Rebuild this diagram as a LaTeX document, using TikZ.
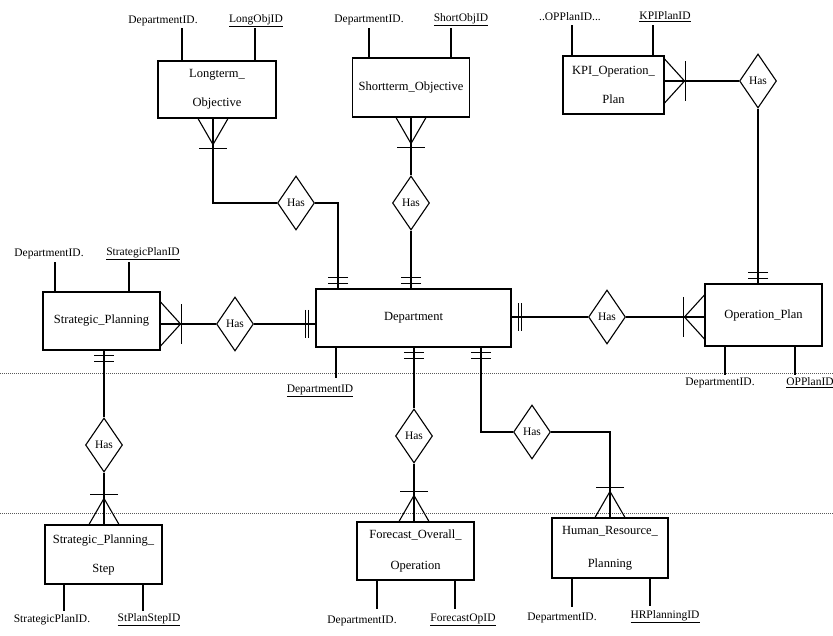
\documentclass[tikz,border=0pt]{standalone}
\usepackage{fontspec}
\setmainfont{Liberation Serif}
\usetikzlibrary{shapes.geometric}
\begin{document}
\begin{tikzpicture}[x=1pt,y=-1pt,
  ln/.style={line width=1.1pt, black},
  ent/.style={draw, line width=1.1pt, inner sep=0pt, align=center, font=\fontsize{12.5}{15}\selectfont},
  rel/.style={draw, diamond, line width=1.1pt, inner sep=0pt, minimum width=37pt, minimum height=54pt, font=\fontsize{11.5}{13}\selectfont},
  attr/.style={inner sep=1pt, font=\fontsize{11.5}{13}\selectfont},
  sep/.style={gray!70!black, line width=0.7pt, dash pattern=on 0.8pt off 1.2pt},
  crow/.pic={\draw[ln] (-15,0) -- (0,26) -- (15,0); \draw[ln] (-14,30) -- (14,30);},
  crowW/.pic={\draw[ln] (-22,0) -- (0,20) -- (22,0); \draw[ln] (-20,21) -- (20,21);},
  mand/.pic={\draw[ln] (-10,5) -- (10,5); \draw[ln] (-10,11) -- (10,11);},
  mandW/.pic={\draw[ln] (-14,7) -- (14,7); \draw[ln] (-14,10) -- (14,10);}
]
\useasboundingbox (0,0) rectangle (833,636);

% separators
\draw[sep] (0,373) -- (833,373);
\draw[sep] (0,513) -- (833,513);

% entities
\node[ent, minimum width=118pt, minimum height=57pt] (LT) at (217,89.5) {Longterm\_\\[14pt]Objective};
\node[ent, minimum width=117pt, minimum height=59pt] (ST) at (411,87.5) {Shortterm\_Objective};
\node[ent, minimum width=101pt, minimum height=58pt] (KPI) at (613.5,85) {KPI\_Operation\_\\[14pt]Plan};
\node[ent, minimum width=117pt, minimum height=58pt] (SP) at (101.5,321) {Strategic\_Planning};
\node[ent, minimum width=195pt, minimum height=58pt] (Dept) at (413.5,318) {Department};
\node[ent, minimum width=117pt, minimum height=62pt] (OP) at (763.5,315) {Operation\_Plan};
\node[ent, minimum width=117pt, minimum height=59pt] (SPS) at (103.5,554.5) {Strategic\_Planning\_\\[14pt]Step};
\node[ent, minimum width=117pt, minimum height=58pt] (FOO) at (415.5,551) {Forecast\_Overall\_\\[16pt]Operation};
\node[ent, minimum width=116pt, minimum height=60pt] (HRP) at (610,548) {Human\_Resource\_\\[18pt]Planning};

% relationships
\node[rel] (D1) at (296,203) {Has};
\node[rel] (D2) at (411,203) {Has};
\node[rel] (D3) at (758,81) {Has};
\node[rel] (D4) at (235,324) {Has};
\node[rel] (D5) at (607,317) {Has};
\node[rel] (D6) at (104,445) {Has};
\node[rel] (D7) at (414,436) {Has};
\node[rel] (D8) at (532,432) {Has};

% connectors
\draw[ln] ([xshift=-4pt]LT.south) |- (D1.west);
\draw[ln] (D1.east) -| ([xshift=-75.5pt]Dept.north);
\draw[ln] (ST.south) -- (D2.north);
\draw[ln] (D2.south) -- ([xshift=-2.5pt]Dept.north);
\draw[ln] ([yshift=4pt]KPI.east) -- (D3.west);
\draw[ln] (D3.south) -- ([xshift=-5.5pt]OP.north);
\draw[ln] ([yshift=-3pt]SP.east) -- (D4.west);
\draw[ln] (D4.east) -- ([yshift=-6pt]Dept.west);
\draw[ln] ([yshift=1pt]Dept.east) -- (D5.west);
\draw[ln] (D5.east) -- ([yshift=-2pt]OP.west);
\draw[ln] ([xshift=2.5pt]SP.south) -- (D6.north);
\draw[ln] (D6.south) -- ([xshift=0.5pt]SPS.north);
\draw[ln] ([xshift=0.5pt]Dept.south) -- (D7.north);
\draw[ln] (D7.south) -- ([xshift=-1.5pt]FOO.north);
\draw[ln] ([xshift=67.5pt]Dept.south) |- (D8.west);
\draw[ln] (D8.east) -| (HRP.north);

% cardinality marks
\pic at ([xshift=-4pt]LT.south) {crow};
\pic at (ST.south) {crow};
\pic[rotate=90] at ([yshift=4pt]KPI.east) {crowW};
\pic[rotate=90] at ([yshift=-3pt]SP.east) {crowW};
\pic[rotate=-90] at ([yshift=-2pt]OP.west) {crowW};
\pic[rotate=180] at ([xshift=0.5pt]SPS.north) {crow};
\pic[rotate=180] at ([xshift=-1.5pt]FOO.north) {crow};
\pic[rotate=180] at (HRP.north) {crow};
\pic[rotate=180] at ([xshift=-75.5pt]Dept.north) {mand};
\pic[rotate=180] at ([xshift=-2.5pt]Dept.north) {mand};
\pic at ([xshift=0.5pt]Dept.south) {mand};
\pic at ([xshift=67.5pt]Dept.south) {mand};
\pic[rotate=-90] at ([yshift=-6pt]Dept.west) {mandW};
\pic[rotate=90] at ([yshift=1pt]Dept.east) {mandW};
\pic[rotate=180] at ([xshift=-5.5pt]OP.north) {mand};
\pic at ([xshift=2.5pt]SP.south) {mand};

% attributes
\node[attr] (a1) at (163,21) {DepartmentID.};
\node[attr] (a2) at (256,21) {\underline{LongObjID}};
\coordinate (c1) at (182,28); \coordinate (c2) at (255,28);
\draw[ln] (LT.north -| c1) -- (c1);
\draw[ln] (LT.north -| c2) -- (c2);

\node[attr] (a3) at (369,20) {DepartmentID.};
\node[attr] (a4) at (461,20) {\underline{ShortObjID}};
\coordinate (c3) at (369,28); \coordinate (c4) at (451,28);
\draw[ln] (ST.north -| c3) -- (c3);
\draw[ln] (ST.north -| c4) -- (c4);

\node[attr] (a5) at (570,17) {..OPPlanID...};
\node[attr] (a6) at (665,17) {\underline{KPIPlanID}};
\coordinate (c5) at (572,25); \coordinate (c6) at (653,25);
\draw[ln] (KPI.north -| c5) -- (c5);
\draw[ln] (KPI.north -| c6) -- (c6);

\node[attr] (a7) at (49,254) {DepartmentID.};
\node[attr] (a8) at (143,254) {\underline{StrategicPlanID}};
\coordinate (c7) at (55,262); \coordinate (c8) at (129,262);
\draw[ln] (SP.north -| c7) -- (c7);
\draw[ln] (SP.north -| c8) -- (c8);

\node[attr] (a9) at (320,391) {\underline{DepartmentID}};
\coordinate (c9) at (336,378);
\draw[ln] (Dept.south -| c9) -- (c9);

\node[attr] (a10) at (720,383) {DepartmentID.};
\node[attr] (a11) at (810,383) {\underline{OPPlanID}};
\coordinate (c10) at (725,375); \coordinate (c11) at (795,375);
\draw[ln] (OP.south -| c10) -- (c10);
\draw[ln] (OP.south -| c11) -- (c11);

\node[attr] (a12) at (52,620) {StrategicPlanID.};
\node[attr] (a13) at (149,620) {\underline{StPlanStepID}};
\coordinate (c12) at (64,611); \coordinate (c13) at (143,611);
\draw[ln] (SPS.south -| c12) -- (c12);
\draw[ln] (SPS.south -| c13) -- (c13);

\node[attr] (a14) at (362,621) {DepartmentID.};
\node[attr] (a15) at (463,620) {\underline{ForecastOpID}};
\coordinate (c14) at (377,609); \coordinate (c15) at (455,609);
\draw[ln] (FOO.south -| c14) -- (c14);
\draw[ln] (FOO.south -| c15) -- (c15);

\node[attr] (a16) at (562,618) {DepartmentID.};
\node[attr] (a17) at (665,617) {\underline{HRPlanningID}};
\coordinate (c16) at (572,607); \coordinate (c17) at (650,606);
\draw[ln] (HRP.south -| c16) -- (c16);
\draw[ln] (HRP.south -| c17) -- (c17);
\end{tikzpicture}
\end{document}
